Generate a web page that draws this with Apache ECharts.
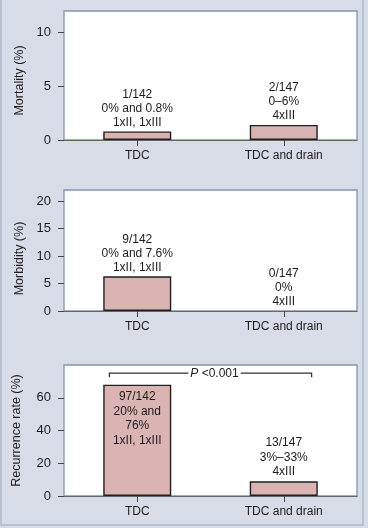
<!DOCTYPE html>
<html>
<head>
<meta charset="utf-8">
<script src="https://cdn.jsdelivr.net/npm/echarts@6/dist/echarts.min.js"></script>
<style>
html,body{margin:0;padding:0;background:#d8dce6;}
#c{width:368px;height:528px;}
</style>
</head>
<body>
<div id="c"></div>
<script>
// ---- data ----
const categories = ['TDC', 'TDC and drain'];
const mortality = [0.8, 1.4];
const morbidity = [6.3, 0];
const recurrence = [68, 9];
const mortalityLabels = ['1/142\n0% and 0.8%\n1xII, 1xIII', '2/147\n0\u20136%\n4xIII'];
const morbidityLabels = ['9/142\n0% and 7.6%\n1xII, 1xIII', '0/147\n0%\n4xIII'];
const recurrenceLabels = ['97/142\n20% and\n76%\n1xII, 1xIII', '13/147\n3%\u201333%\n4xIII'];
const mortalityTicks = [0, 5, 10];
const morbidityTicks = [0, 5, 10, 15, 20];
const recurrenceTicks = [0, 20, 40, 60];
const axisMax = [12, 22, 80];
const axisNames = ['Mortality (%)', 'Morbidity (%)', 'Recurrence rate (%)'];
const pBracket = [75, 72.5]; // bracket level, end-tick level
const pText = 'P <0.001';

// ---- chart ----
const FONT = '"Liberation Sans", Arial, sans-serif';
const TXT = '#1e1c1d';
const chart = echarts.init(document.getElementById('c'), null, {renderer: 'canvas'});

const grids = [
  {left: 64, right: 11, top: 11, height: 129},
  {left: 64, right: 11, top: 190, height: 121},
  {left: 64, right: 11, top: 365, height: 131}
].map(g => Object.assign(g, {show: true, backgroundColor: '#ffffff', borderColor: '#8194ad', borderWidth: 1.3}));

const tickSets = [mortalityTicks, morbidityTicks, recurrenceTicks];
const nameGaps = [34, 34, 41];
const namePads = [[0, 10, 0, 0], [0, 16, 0, 0], [0, 0, 0, 0]];

const xAxes = grids.map((g, i) => ({
  type: 'category', gridIndex: i, data: categories,
  axisLine: {show: true, lineStyle: {color: '#666', width: 1.2}},
  axisTick: {show: true, alignWithLabel: true, length: 6, lineStyle: {color: '#444'}},
  axisLabel: {color: TXT, fontSize: 12, fontFamily: FONT, margin: 10}
}));

const yAxes = grids.map((g, i) => ({
  type: 'value', gridIndex: i, min: 0, max: axisMax[i],
  name: axisNames[i], nameLocation: 'middle', nameGap: nameGaps[i],
  nameTextStyle: {color: TXT, fontSize: 12.5, fontFamily: FONT, padding: namePads[i]},
  axisLine: {show: false},
  splitLine: {show: false},
  axisTick: {show: true, length: 6, customValues: tickSets[i], lineStyle: {color: '#444'}},
  axisLabel: {color: TXT, fontSize: 13, fontFamily: FONT, margin: 13, customValues: tickSets[i]}
}));

function barSeries(i, values, labels, pos) {
  return {
    type: 'bar', xAxisIndex: i, yAxisIndex: i, barWidth: 68,
    itemStyle: {color: '#d9b4b3', borderColor: '#1f1f1f', borderWidth: 1.4},
    data: values.map((v, k) => ({
      value: v,
      itemStyle: v === 0 ? {borderWidth: 0} : undefined,
      label: {
        show: true,
        position: pos[k],
        distance: pos[k] === 'insideTop' ? 5 : 2,
        formatter: labels[k],
        color: TXT, fontSize: 12, lineHeight: i === 2 ? 14.5 : 14, fontFamily: FONT, align: 'center'
      }
    })),
    silent: true, animation: false
  };
}

const series = [
  barSeries(0, mortality, mortalityLabels, ['top', 'top']),
  barSeries(1, morbidity, morbidityLabels, ['top', 'top']),
  barSeries(2, recurrence, recurrenceLabels, ['insideTop', 'top']),
  {
    type: 'custom', xAxisIndex: 2, yAxisIndex: 2, silent: true, animation: false,
    data: [[0, pBracket[0]]],
    renderItem: function (params, api) {
      const a = api.coord([0, pBracket[0]]);
      const b = api.coord([1, pBracket[0]]);
      const e = api.coord([0, pBracket[1]]);
      const off = api.size([1, 0])[0] * 0.19;
      const x0 = a[0] - off, x1 = b[0] + off;
      const mid = (x0 + x1) / 2 + 4;
      return {
        type: 'group',
        children: [
          {type: 'polyline', shape: {points: [[x0, e[1]], [x0, a[1]], [x1, a[1]], [x1, e[1]]]},
           style: {stroke: '#333', lineWidth: 1.3, fill: null}},
          {type: 'text', style: {
            x: mid, y: a[1], text: '{i|P} <0.001', align: 'center', verticalAlign: 'middle',
            fill: TXT, font: '12px ' + FONT, backgroundColor: '#ffffff', padding: [0, 2],
            rich: {i: {fontStyle: 'italic', fontSize: 12, fontFamily: FONT, fill: TXT}}
          }}
        ]
      };
    }
  }
];

chart.setOption({
  backgroundColor: '#d8dce6',
  animation: false,
  grid: grids,
  xAxis: xAxes,
  yAxis: yAxes,
  series: series,
  graphic: [{
    type: 'rect', silent: true,
    shape: {x: 1, y: -5, width: 362, height: 530},
    style: {fill: null, stroke: '#aeb7c8', lineWidth: 1.5}
  }]
});
</script>
</body>
</html>
